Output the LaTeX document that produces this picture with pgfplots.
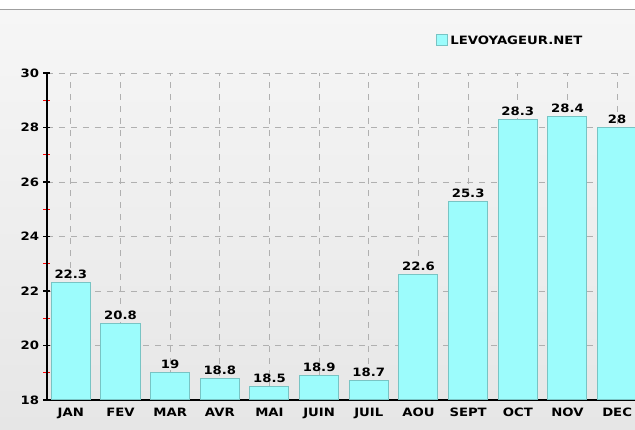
\documentclass[border=0pt]{standalone}
\usepackage{pgfplots}
\pgfplotsset{compat=1.18}
\usepackage{fontspec}
\setmainfont{DejaVu Sans}[FakeStretch=1.15]
\definecolor{barfill}{HTML}{9CFCFC}
\definecolor{barline}{HTML}{78C4C4}
\definecolor{gridc}{HTML}{B0B0B0}
\definecolor{bgtop}{HTML}{F6F6F6}
\definecolor{bgbot}{HTML}{E6E6E6}
\begin{document}
\begin{tikzpicture}[x=1pt,y=1pt]
\useasboundingbox (0,0) rectangle (635,430);
\fill[white] (0,0) rectangle (635,430);
\shade[top color=bgtop, bottom color=bgbot] (0,0) rectangle (635,420);
\draw[gray!75, line width=1pt] (0,420) -- (635,420);
\begin{axis}[
  at={(47pt,30pt)}, anchor=south west,
  scale only axis, width=588pt, height=327pt,
  xmin=-0.48, xmax=11.36, ymin=18, ymax=30,
  enlargelimits=false,
  ybar, bar width=39pt,
  axis x line*=bottom, axis y line*=left,
  axis line style={black, line width=1.6pt},
  xtick={0,...,11},
  xticklabels={JAN,FEV,MAR,AVR,MAI,JUIN,JUIL,AOU,SEPT,OCT,NOV,DEC},
  xtick style={draw=none},
  ytick={18,20,...,30},
  minor ytick={19,21,...,29},
  ytick style={line width=1.2pt},
  major tick style={black},
  minor tick style={red, line width=1.5pt},
  major tick length=7pt, minor tick length=7pt,
  tick align=center,
  xmajorgrids, ymajorgrids,
  major grid style={gridc, dash pattern=on 6pt off 6pt, line width=0.7pt},
  tick label style={font=\fontsize{11.5}{13}\selectfont\bfseries},
  /pgf/number format/assume math mode=true,
  yticklabel style={xshift=-1pt},
  xticklabel style={yshift=-1pt},
  nodes near coords,
  nodes near coords style={font=\fontsize{11.5}{13}\selectfont\bfseries, black, yshift=0pt},
  legend style={draw=none, fill=none, at={(0.662,1.098)}, anchor=west,
    font=\fontsize{11.5}{13}\selectfont\bfseries, inner sep=0pt},
  legend image code/.code={\draw[barline, fill=barfill] (0pt,-5pt) rectangle (11pt,6pt);},
]
\addplot[fill=barfill, draw=barline, line width=1pt] coordinates {
 (0,22.3) (1,20.8) (2,19) (3,18.8) (4,18.5) (5,18.9)
 (6,18.7) (7,22.6) (8,25.3) (9,28.3) (10,28.4) (11,28)};
\addlegendentry{LEVOYAGEUR.NET}
\end{axis}
\end{tikzpicture}
\end{document}
